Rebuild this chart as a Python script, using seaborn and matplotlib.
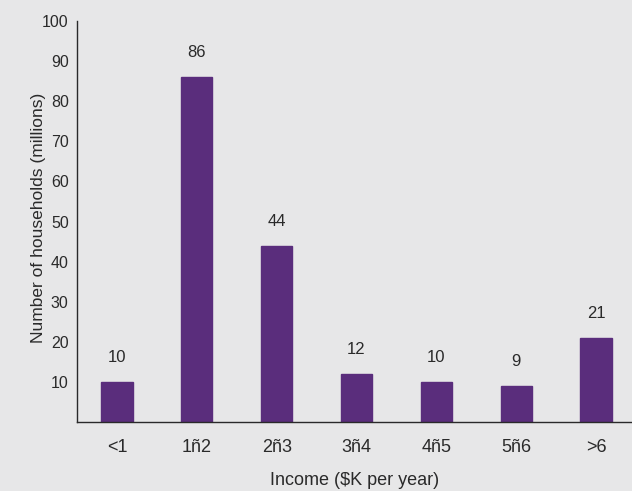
import matplotlib
matplotlib.use("Agg")
import matplotlib.pyplot as plt
import seaborn as sns
import pandas as pd
import numpy as np

categories = ["<1", "1ñ2", "2ñ3", "3ñ4", "4ñ5", "5ñ6", ">6"]
households = [10, 86, 44, 12, 10, 9, 21]
yticks = [10, 20, 30, 40, 50, 60, 70, 80, 90, 100]

sns.set_style("white")
plt.rcParams['font.family'] = ['Liberation Sans', 'DejaVu Sans']

bg = "#e7e7e8"
bar_color = "#5a2d7c"
txt = "#2a2a2a"

fig = plt.figure(figsize=(6.32, 4.91), dpi=100, facecolor=bg)
ax = fig.add_axes([77/632, 69/491, 555/632, 401/491])
ax.set_facecolor(bg)

df = pd.DataFrame({"cat": categories, "val": households})
sns.barplot(data=df, x="cat", y="val", color=bar_color, width=0.39,
            saturation=1, ax=ax, edgecolor=bar_color)

for i, v in enumerate(households):
    ax.text(i, v + 4.2, str(v), ha="center", va="bottom", fontsize=12, color=txt)

ax.set_xlim(-0.5, 6.45)
ax.set_ylim(0, 100)
ax.set_yticks(yticks)
ax.set_yticklabels([str(t) for t in yticks], fontsize=11.5, color=txt)
ax.set_xticks(np.arange(len(categories)) - 0.5)
ax.set_xticklabels([])
ax.set_xticks(np.arange(len(categories)), minor=True)
ax.set_xticklabels(categories, minor=True, fontsize=13, color=txt)
ax.tick_params(axis="x", which="major", direction="out", length=4, width=1, color=txt)
ax.tick_params(axis="x", which="minor", length=0, pad=12)
ax.tick_params(axis="y", direction="out", length=4, width=1, color=txt, pad=2)

for s in ["top", "right"]:
    ax.spines[s].set_visible(False)
for s in ["left", "bottom"]:
    ax.spines[s].set_color(txt)
    ax.spines[s].set_linewidth(1)

ax.set_xlabel("Income ($K per year)", fontsize=13, color=txt, labelpad=12)
ax.set_ylabel("Number of households (millions)", fontsize=12.5, color=txt)
ax.yaxis.set_label_coords(-0.056, 0.51)

fig.savefig("out.png", dpi=100, facecolor=bg)
